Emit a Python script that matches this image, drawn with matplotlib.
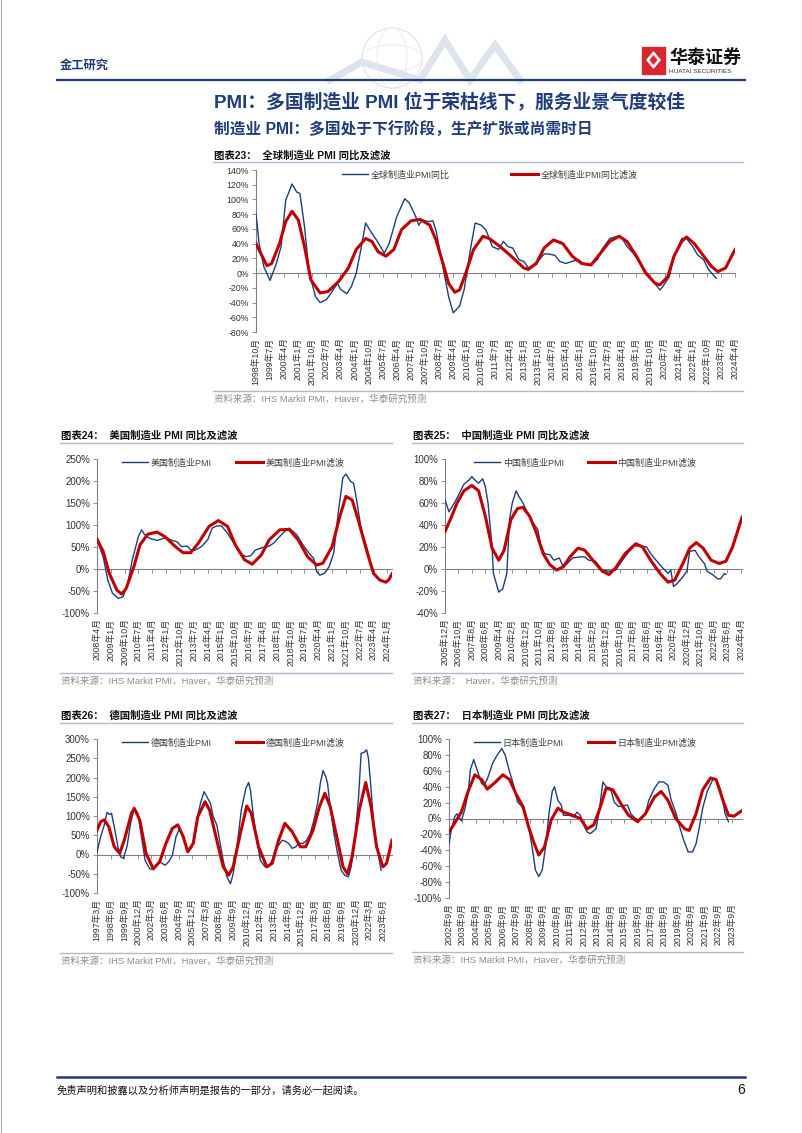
import matplotlib
matplotlib.use('Agg')
import matplotlib.pyplot as plt
import matplotlib.dates as mdates
import pandas as pd
from matplotlib.patches import Rectangle, Circle, Ellipse, Polygon

plt.rcParams['font.family'] = ['Liberation Sans', 'Noto Sans CJK SC']
plt.rcParams['axes.unicode_minus'] = False

W, H = 802, 1133
NAVY = '#1f3d7a'
BLUE = '#1b3f7c'
RED = '#c00000'
GRAY = '#808080'
TXT = '#333333'

# ---------------- data (% yoy) ----------------
global_dates = ['1998-10', '1998-12', '1999-03', '1999-07', '1999-11', '2000-02', '2000-05', '2000-09',
                '2000-12', '2001-02', '2001-05', '2001-08', '2001-12', '2002-03', '2002-07', '2002-10',
                '2003-02', '2003-04', '2003-08', '2003-11', '2004-02', '2004-05', '2004-08', '2004-12',
                '2005-03', '2005-08', '2005-11', '2006-04', '2006-09', '2006-12', '2007-04', '2007-06',
                '2007-08', '2007-12', '2008-03', '2008-05', '2008-09', '2009-01', '2009-04', '2009-08',
                '2009-11', '2010-03', '2010-06', '2010-10', '2011-01', '2011-05', '2011-09', '2011-12',
                '2012-03', '2012-06', '2012-10', '2013-01', '2013-04', '2013-07', '2013-11', '2014-02',
                '2014-05', '2014-09', '2014-12', '2015-04', '2015-08', '2015-12', '2016-03', '2016-08',
                '2016-12', '2017-03', '2017-08', '2018-01', '2018-04', '2018-07', '2018-11', '2019-02',
                '2019-07', '2019-11', '2020-04', '2020-06', '2020-10', '2021-01', '2021-06', '2021-09',
                '2022-01', '2022-04', '2022-08', '2022-11', '2023-04']
global_yoy = [80, 40, 9, -10, 13, 36, 99, 121, 110, 108, 63, 0, -32, -40, -36, -27,
              -14, -22, -28, -18, 0, 32, 68, 54, 45, 27, 40, 77, 101, 95, 77, 65,
              72, 70, 71, 58, 13, -32, -54, -45, -22, 32, 68, 65, 58, 36, 32, 43,
              36, 34, 18, 16, 7, 11, 18, 26, 26, 24, 16, 13, 16, 18, 13, 11,
              18, 32, 47, 50, 47, 36, 27, 18, 2, -9, -23, -18, -5, 23, 47, 47,
              36, 25, 18, 5, -7]
global_filt_dates = ['1998-10', '1999-05', '1999-08', '2000-01', '2000-05', '2000-09', '2001-01', '2001-05',
                     '2001-09', '2002-03', '2002-08', '2003-03', '2003-09', '2004-02', '2004-08', '2004-12',
                     '2005-04', '2005-09', '2006-02', '2006-07', '2007-01', '2007-07', '2008-01', '2008-05',
                     '2008-10', '2009-01', '2009-05', '2009-08', '2009-12', '2010-05', '2010-11', '2011-03',
                     '2011-10', '2012-05', '2013-01', '2013-04', '2013-09', '2014-02', '2014-08', '2015-02',
                     '2015-08', '2016-02', '2016-08', '2017-02', '2017-08', '2018-02', '2018-07', '2019-01',
                     '2019-07', '2020-01', '2020-04', '2020-09', '2021-01', '2021-06', '2021-09', '2022-02',
                     '2022-08', '2023-01', '2023-05', '2023-10', '2024-04']
global_filt = [40, 10, 13, 40, 70, 84, 72, 36, -9, -27, -25, -11, 7, 32, 47, 43,
               29, 23, 32, 59, 71, 73, 65, 45, 9, -14, -26, -23, 0, 32, 50, 47,
               36, 23, 7, 5, 13, 34, 45, 40, 23, 13, 11, 27, 43, 50, 43, 23,
               0, -14, -16, -5, 23, 43, 49, 40, 23, 9, 2, 7, 32]

us_dates = ['2008-04', '2008-08', '2008-11', '2009-02', '2009-06', '2009-09', '2009-12', '2010-03',
            '2010-07', '2010-09', '2010-11', '2011-02', '2011-07', '2011-10', '2012-01', '2012-04',
            '2012-08', '2012-11', '2013-03', '2013-05', '2013-08', '2013-12', '2014-04', '2014-07',
            '2014-10', '2015-01', '2015-05', '2015-09', '2016-01', '2016-05', '2016-08', '2016-11',
            '2017-04', '2017-08', '2017-11', '2018-03', '2018-06', '2018-09', '2019-02', '2019-06',
            '2019-10', '2020-01', '2020-03', '2020-05', '2020-08', '2020-11', '2021-02', '2021-05',
            '2021-08', '2021-10', '2022-01', '2022-03', '2022-05', '2022-08', '2022-12', '2023-02',
            '2023-04']
us_yoy = [66, 28, -25, -55, -67, -63, -33, 21, 74, 89, 78, 70, 65, 68, 72, 66,
          62, 51, 52, 43, 43, 51, 66, 93, 98, 98, 81, 59, 36, 28, 30, 43,
          49, 52, 59, 74, 85, 93, 78, 55, 36, 24, -6, -14, -10, 5, 36, 127,
          207, 216, 199, 195, 157, 89, 43, 13, -10]
us_filt_dates = ['2008-04', '2008-08', '2008-12', '2009-05', '2009-08', '2009-11', '2010-04', '2010-08',
                 '2011-01', '2011-07', '2011-12', '2012-07', '2012-12', '2013-05', '2013-10', '2014-05',
                 '2014-11', '2015-05', '2015-10', '2016-04', '2016-09', '2017-03', '2017-08', '2018-03',
                 '2018-09', '2019-03', '2019-09', '2020-03', '2020-07', '2021-01', '2021-06', '2021-10',
                 '2022-02', '2022-06', '2022-12', '2023-04', '2023-08', '2023-12', '2024-02', '2024-04']
us_filt = [68, 40, -10, -48, -57, -44, 5, 55, 79, 84, 74, 51, 37, 37, 59, 97,
           110, 97, 55, 21, 11, 32, 66, 89, 90, 66, 28, 9, 13, 51, 119, 165,
           157, 112, 36, -10, -25, -30, -24, -11]

cn_dates = ['2005-12', '2006-03', '2006-07', '2006-10', '2007-02', '2007-06', '2007-08', '2007-11',
            '2008-01', '2008-04', '2008-06', '2008-08', '2008-11', '2008-12', '2009-04', '2009-07',
            '2009-10', '2009-12', '2010-02', '2010-05', '2010-07', '2010-10', '2011-01', '2011-05',
            '2011-09', '2011-11', '2012-02', '2012-06', '2012-09', '2013-01', '2013-04', '2013-07',
            '2013-11', '2014-04', '2014-08', '2014-11', '2015-04', '2015-09', '2016-02', '2016-07',
            '2016-12', '2017-05', '2017-09', '2018-01', '2018-06', '2018-09', '2019-01', '2019-06',
            '2019-10', '2019-12', '2020-02', '2020-05', '2020-09', '2020-12', '2021-02', '2021-06',
            '2021-09', '2022-01', '2022-03', '2022-07', '2022-11', '2023-01', '2023-04', '2023-05']
cn_yoy = [63, 52, 60, 67, 77, 81, 84, 80, 78, 82, 75, 60, 20, -4, -21, -18,
          -4, 45, 60, 71, 66, 60, 52, 43, 36, 23, 14, 13, 8, 10, 2, 5,
          10, 11, 11, 8, 7, -1, -2, -1, 8, 16, 21, 21, 20, 14, 8, 1,
          -4, -1, -16, -13, -7, -2, 16, 17, 11, 5, -2, -5, -9, -9, -4, -5]
cn_filt_dates = ['2005-12', '2006-04', '2006-09', '2007-02', '2007-08', '2008-01', '2008-06', '2008-11',
                 '2009-04', '2009-08', '2010-01', '2010-06', '2010-10', '2011-03', '2011-08', '2012-01',
                 '2012-06', '2012-11', '2013-04', '2013-09', '2014-03', '2014-08', '2015-02', '2015-09',
                 '2016-02', '2016-07', '2017-02', '2017-10', '2018-03', '2018-09', '2019-04', '2019-10',
                 '2020-03', '2020-09', '2021-02', '2021-07', '2021-12', '2022-06', '2022-12', '2023-05',
                 '2023-10', '2024-05']
cn_filt = [34, 45, 60, 71, 76, 71, 48, 19, 8, 17, 45, 55, 56, 48, 33, 14,
           4, -1, 2, 11, 19, 17, 8, -2, -5, 1, 14, 23, 20, 8, -4, -12,
           -10, 5, 19, 24, 19, 8, 5, 7, 20, 47]

de_dates = ['1997-03', '1997-07', '1997-11', '1998-02', '1998-05', '1998-07', '1998-10', '1999-02',
            '1999-05', '1999-08', '1999-12', '2000-04', '2000-08', '2000-12', '2001-04', '2001-08',
            '2002-01', '2002-05', '2002-09', '2002-12', '2003-06', '2003-10', '2004-02', '2004-06',
            '2004-09', '2004-12', '2005-04', '2005-07', '2005-11', '2006-03', '2006-06', '2006-10',
            '2007-01', '2007-04', '2007-08', '2007-11', '2008-03', '2008-06', '2008-10', '2009-02',
            '2009-06', '2009-09', '2010-02', '2010-06', '2010-11', '2011-02', '2011-04', '2011-07',
            '2011-11', '2012-03', '2012-08', '2012-12', '2013-04', '2013-07', '2013-11', '2014-03',
            '2014-06', '2014-10', '2015-02', '2015-06', '2015-09', '2016-02', '2016-06', '2016-10',
            '2017-02', '2017-06', '2017-09', '2017-12', '2018-03', '2018-05', '2018-08', '2018-12',
            '2019-04', '2019-08', '2019-12', '2020-04', '2020-07', '2020-11', '2021-03', '2021-06',
            '2021-09', '2021-12', '2022-02', '2022-05', '2022-08', '2022-12', '2023-04']
de_yoy = [7, 46, 77, 109, 104, 107, 72, 20, -6, -10, 20, 81, 120, 107, 46, -15,
          -37, -39, -28, -19, -28, -19, -2, 46, 63, 59, 29, 11, 16, 50, 103, 142,
          163, 150, 133, 98, 77, 37, -15, -58, -76, -50, 37, 116, 172, 187, 168, 107,
          37, -15, -32, -32, -15, 11, 24, 37, 35, 29, 16, 20, 29, 29, 37, 55,
          90, 133, 185, 218, 203, 185, 124, 55, 3, -41, -54, -58, -32, 37, 142, 263,
          265, 272, 250, 168, 72, 11, -41]
de_filt_dates = ['1997-03', '1997-07', '1997-11', '1998-04', '1998-10', '1999-04', '1999-09', '2000-05',
                 '2000-08', '2001-02', '2001-09', '2002-05', '2002-12', '2003-07', '2004-02', '2004-08',
                 '2005-02', '2005-07', '2006-01', '2006-06', '2007-02', '2007-07', '2008-03', '2008-10',
                 '2009-04', '2009-09', '2010-05', '2010-12', '2011-05', '2012-01', '2012-10', '2013-04',
                 '2013-11', '2014-06', '2015-02', '2015-11', '2016-05', '2017-01', '2017-08', '2018-02',
                 '2018-08', '2019-04', '2019-10', '2020-03', '2020-08', '2021-04', '2021-11', '2022-05',
                 '2022-11', '2023-06', '2023-10', '2024-04']
de_filt = [63, 85, 90, 72, 20, 3, 37, 107, 120, 90, 3, -37, -19, 29, 68, 77,
           46, 7, 29, 98, 137, 116, 37, -32, -54, -32, 55, 126, 107, 20, -32, -23,
           37, 81, 59, 20, 20, 63, 124, 159, 124, 37, -32, -50, -6, 116, 187, 124,
           20, -32, -23, 37]

jp_dates = ['2002-09', '2002-11', '2003-02', '2003-04', '2003-06', '2003-08', '2003-11', '2004-02',
            '2004-04', '2004-07', '2004-11', '2005-02', '2005-04', '2005-07', '2005-12', '2006-04',
            '2006-08', '2006-11', '2007-03', '2007-07', '2007-10', '2008-02', '2008-05', '2008-08',
            '2008-11', '2009-02', '2009-05', '2009-08', '2009-11', '2010-02', '2010-05', '2010-07',
            '2010-10', '2011-01', '2011-03', '2011-08', '2011-12', '2012-03', '2012-06', '2012-09',
            '2012-12', '2013-03', '2013-08', '2013-11', '2014-02', '2014-05', '2014-09', '2014-12',
            '2015-04', '2015-08', '2015-12', '2016-03', '2016-07', '2016-11', '2017-04', '2017-07',
            '2017-12', '2018-04', '2018-08', '2018-12', '2019-03', '2019-07', '2019-10', '2020-02',
            '2020-06', '2020-10', '2021-01', '2021-04', '2021-07', '2021-11', '2022-04', '2022-07',
            '2022-11', '2023-03', '2023-06']
jp_yoy = [-32, -15, 2, 6, 2, -3, 11, 32, 61, 74, 57, 44, 42, 49, 70, 80,
          88, 80, 59, 40, 21, 15, 4, -11, -36, -65, -73, -65, -36, 6, 34, 40,
          23, 17, 4, 4, 2, 8, 4, -8, -17, -19, -13, 11, 46, 40, 38, 21,
          15, 16, 17, 6, 0, -2, 6, 23, 38, 46, 46, 42, 23, 8, -8, -27,
          -42, -42, -32, -11, 13, 34, 49, 49, 36, 6, -4]
jp_filt_dates = ['2002-09', '2003-02', '2003-08', '2004-02', '2004-08', '2005-02', '2005-07', '2006-01',
                 '2006-09', '2007-03', '2007-09', '2008-03', '2008-08', '2009-01', '2009-05', '2009-10',
                 '2010-04', '2010-10', '2011-03', '2011-11', '2012-06', '2012-12', '2013-06', '2013-11',
                 '2014-05', '2014-11', '2015-06', '2016-01', '2016-09', '2017-04', '2017-12', '2018-06',
                 '2018-12', '2019-07', '2020-03', '2020-07', '2021-01', '2021-07', '2022-02', '2022-07',
                 '2023-01', '2023-06', '2023-11', '2024-06']
jp_filt = [-17, -6, 8, 34, 55, 49, 37, 44, 55, 49, 30, 15, -11, -32, -46, -36,
           -2, 13, 8, 4, 0, -13, -8, 11, 38, 36, 19, 4, -4, 6, 27, 34,
           23, 0, -13, -15, 6, 36, 51, 49, 23, 4, 3, 10]


def to_num(dates):
    return mdates.date2num(pd.to_datetime(dates, format='%Y-%m'))


def px_rect(left, top, right, bottom):
    return [left / W, 1 - bottom / H, (right - left) / W, (bottom - top) / H]


def draw_chart(fig, box, series, names, yrange, ystep, ticks, legend_at, colspace,
               ytick_size=7.0, xtick_size=6.3):
    ax = fig.add_axes(px_rect(*box))
    ax.patch.set_alpha(0)
    bd, bv, rd, rv = series
    bx, rx = to_num(bd), to_num(rd)
    ax.plot(bx, bv, color=BLUE, lw=1.0, label=names[0], zorder=3)
    ax.plot(rx, rv, color=RED, lw=2.2, label=names[1], zorder=4)

    ymin, ymax = yrange
    ax.set_ylim(ymin, ymax)
    ax.set_xlim(rx[0], rx[-1])
    yt = list(range(ymin, ymax + 1, ystep))
    ax.set_yticks(yt, [f'{v}%' for v in yt])

    start, end, step = ticks
    tick_dates = pd.date_range(start, end, freq=f'{step}MS')
    tick_x = mdates.date2num(tick_dates)
    ax.set_xticks(tick_x, [f'{d.year}年{d.month}月' for d in tick_dates], rotation=90)

    for s in ['top', 'right', 'bottom']:
        ax.spines[s].set_visible(False)
    ax.spines['left'].set_color(GRAY)
    ax.spines['left'].set_linewidth(0.8)
    ax.tick_params(axis='y', length=3, width=0.6, color=GRAY, labelsize=ytick_size,
                   labelcolor=TXT, pad=2)
    ax.tick_params(axis='x', length=0, labelsize=xtick_size, labelcolor=TXT, pad=4)

    # zero line with tick marks hanging below it
    zero = ax.secondary_xaxis(-ymin / (ymax - ymin))
    zero.set_alignment('bottom')
    zero.set_xticks(tick_x)
    zero.tick_params(axis='x', length=3, width=0.6, color=GRAY,
                     labelbottom=False, labeltop=False)
    zero.spines['bottom'].set_color(GRAY)
    zero.spines['bottom'].set_linewidth(0.8)

    ax.legend(loc='center left', bbox_to_anchor=legend_at, ncol=2, frameon=False,
              fontsize=6.5, labelcolor='#404040', handlelength=2.9, handletextpad=0.3,
              columnspacing=colspace, borderpad=0, borderaxespad=0)
    return ax


fig = plt.figure(figsize=(W / 100, H / 100), dpi=100)
page = fig.add_axes([0, 0, 1, 1])
page.set_xlim(0, W)
page.set_ylim(H, 0)
page.axis('off')

# page frame
page.plot([0.5, 0.5], [0, H], color='#b0b0b0', lw=0.8)
page.plot([W - 0.5, W - 0.5], [0, H], color='#b0b0b0', lw=0.8)

# faint globe decoration in header
page.add_patch(Circle((392, 58), 30, fill=False, ec='#e3e8ee', lw=1.0))
page.add_patch(Ellipse((392, 58), 30, 60, fill=False, ec='#e8ecf1', lw=0.7))
page.add_patch(Ellipse((392, 58), 60, 26, fill=False, ec='#e8ecf1', lw=0.7))
page.plot([330, 362, 420, 445, 470, 495, 520], [80, 62, 80, 40, 80, 45, 80],
          color='#dde4ee', lw=5, solid_joinstyle='miter')

page.text(60, 66, '金工研究', fontsize=8.8, color=NAVY, fontweight='bold', va='center')
page.plot([57, 745], [80, 80], color=NAVY, lw=1.6)

# logo
page.add_patch(Rectangle((642, 47), 23, 27, color='#d7282f'))
page.add_patch(Polygon([(653.5, 51), (661, 60), (653.5, 69), (646, 60)], closed=True,
                       fc='white', ec='none'))
page.add_patch(Polygon([(653.5, 55), (657.5, 60), (653.5, 65), (649.5, 60)], closed=True,
                       fc='#d7282f', ec='none'))
page.text(669, 58, '华泰证券', fontsize=13, fontweight='bold', color='#111111', va='center')
page.text(669, 71.5, 'HUATAI SECURITIES', fontsize=4.6, color='#333333', va='center')

page.text(214, 103, 'PMI：多国制造业 PMI 位于荣枯线下，服务业景气度较佳', fontsize=13.5,
          fontweight='bold', color=NAVY, va='center')
page.text(214, 130, '制造业 PMI：多国处于下行阶段，生产扩张或尚需时日', fontsize=11.3,
          fontweight='bold', color=NAVY, va='center')


def chart_frame(x0, x1, title_y, line_y, src_line_y, title, source):
    page.text(x0 + 1, title_y, title, fontsize=7.5, fontweight='bold', color='#111111', va='center')
    page.plot([x0, x1], [line_y, line_y], color='#a9bccf', lw=1.0)
    page.plot([x0, x1], [src_line_y, src_line_y], color='#a9bccf', lw=1.0)
    page.text(x0 + 1, src_line_y + 8, source, fontsize=6.8, color='#8c8c8c', va='center')


src_full = '资料来源：IHS Markit PMI，Haver，华泰研究预测'
chart_frame(213, 743, 155, 162, 391, '图表23：  全球制造业 PMI 同比及滤波', src_full)
chart_frame(60, 392, 435, 443, 673, '图表24：  美国制造业 PMI 同比及滤波', src_full)
chart_frame(412, 743, 435, 443, 673, '图表25：  中国制造业 PMI 同比及滤波', '资料来源：  Haver，华泰研究预测')
chart_frame(60, 392, 715, 723, 953, '图表26：  德国制造业 PMI 同比及滤波', src_full)
chart_frame(412, 743, 715, 723, 952, '图表27：  日本制造业 PMI 同比及滤波', src_full)

draw_chart(fig, (256, 170, 735, 332),
           (global_dates, global_yoy, global_filt_dates, global_filt),
           ('全球制造业PMI同比', '全球制造业PMI同比滤波'), (-80, 140), 20,
           ('1998-10', '2024-04', 9), (0.18, 0.969), 6.8, ytick_size=6.3)
draw_chart(fig, (97, 459, 392, 613),
           (us_dates, us_yoy, us_filt_dates, us_filt),
           ('美国制造业PMI', '美国制造业PMI滤波'), (-100, 250), 50,
           ('2008-04', '2024-01', 9), (0.085, 0.974), 2.7)
draw_chart(fig, (445, 459, 742, 613),
           (cn_dates, cn_yoy, cn_filt_dates, cn_filt),
           ('中国制造业PMI', '中国制造业PMI滤波'), (-40, 100), 20,
           ('2005-12', '2024-04', 10), (0.098, 0.974), 2.7)
draw_chart(fig, (97, 739, 392, 893),
           (de_dates, de_yoy, de_filt_dates, de_filt),
           ('德国制造业PMI', '德国制造业PMI滤波'), (-100, 300), 50,
           ('1997-03', '2023-06', 15), (0.085, 0.974), 2.7)
draw_chart(fig, (449, 739, 742, 898),
           (jp_dates, jp_yoy, jp_filt_dates, jp_filt),
           ('日本制造业PMI', '日本制造业PMI滤波'), (-100, 100), 20,
           ('2002-09', '2023-09', 12), (0.085, 0.975), 2.7)

# footer
page.plot([57, 745], [1077, 1077], color=NAVY, lw=1.8)
page.text(57, 1090, '免责声明和披露以及分析师声明是报告的一部分，请务必一起阅读。', fontsize=7.4,
          color='#111111', va='center', style='italic')
page.text(745, 1090, '6', fontsize=10, color='#111111', va='center', ha='right')

fig.savefig('out.png', dpi=100)
